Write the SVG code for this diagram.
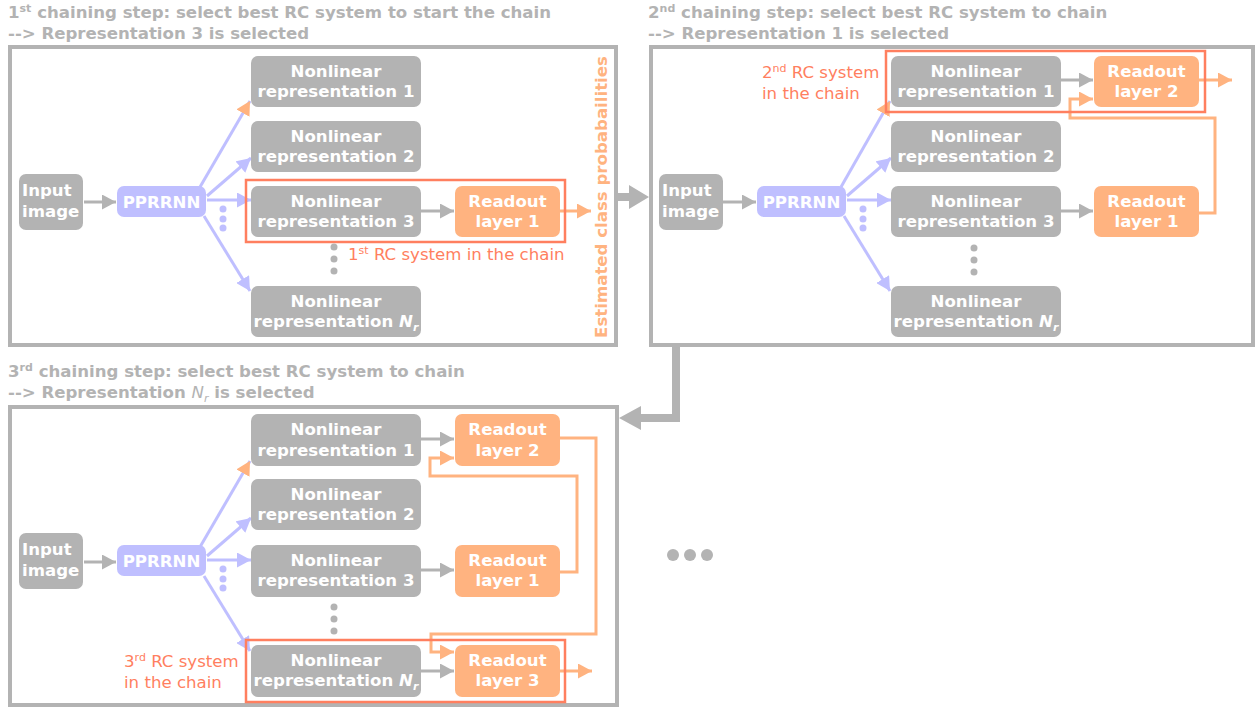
<svg xmlns="http://www.w3.org/2000/svg" width="1255" height="707" viewBox="0 0 1255 707">
<defs>
<style>
.frame{fill:none;stroke:#b3b3b3;stroke-width:4}
.gbox{fill:#b3b3b3}
.lbox{fill:#bfbfff}
.obox{fill:#ffb380}
.nt{font-family:"DejaVu Sans",sans-serif;font-weight:bold;font-size:16.6px;fill:#ffffff;text-anchor:middle}
.nts{font-family:"DejaVu Sans",sans-serif;font-weight:bold;font-size:16.6px;fill:#ffffff}
.title{font-family:"DejaVu Sans",sans-serif;font-weight:bold;font-size:16.6px;fill:#b3b3b3}
.lab{font-family:"DejaVu Sans",sans-serif;font-size:16.6px;fill:#ff7f5f}
.sel{fill:none;stroke:#ff7f5f;stroke-width:2.5}
.ga{fill:none;stroke:#b3b3b3;stroke-width:3;marker-end:url(#mg)}
.la{fill:none;stroke:#bfbfff;stroke-width:3;marker-end:url(#ml)}
.lo{fill:none;stroke:#bfbfff;stroke-width:3;marker-end:url(#mo)}
.oa{fill:none;stroke:#ffb380;stroke-width:3;marker-end:url(#mo)}
.gd{fill:#b3b3b3}
.ld{fill:#bfbfff}
</style>
<marker id="mg" markerUnits="userSpaceOnUse" markerWidth="15" markerHeight="15" refX="14" refY="7.5" orient="auto"><path d="M0,0 L14,7.5 L0,15 z" fill="#b3b3b3"/></marker>
<marker id="ml" markerUnits="userSpaceOnUse" markerWidth="15" markerHeight="15" refX="14" refY="7.5" orient="auto"><path d="M0,0 L14,7.5 L0,15 z" fill="#bfbfff"/></marker>
<marker id="mo" markerUnits="userSpaceOnUse" markerWidth="15" markerHeight="15" refX="14" refY="7.5" orient="auto"><path d="M0,0 L14,7.5 L0,15 z" fill="#ffb380"/></marker>
</defs>
<rect width="1255" height="707" fill="#ffffff"/>

<!-- titles -->
<text class="title" x="8" y="18">1<tspan font-size="11" dy="-6">st</tspan><tspan dy="6"> chaining step: select best RC system to start the chain</tspan></text>
<text class="title" x="8" y="39">--&gt; Representation 3 is selected</text>
<text class="title" x="648" y="18">2<tspan font-size="11" dy="-6">nd</tspan><tspan dy="6"> chaining step: select best RC system to chain</tspan></text>
<text class="title" x="648" y="39">--&gt; Representation 1 is selected</text>
<text class="title" x="8" y="377">3<tspan font-size="11" dy="-6">rd</tspan><tspan dy="6"> chaining step: select best RC system to chain</tspan></text>
<text class="title" x="8" y="398">--&gt; Representation <tspan font-weight="normal" font-style="italic">N</tspan><tspan font-weight="normal" font-style="italic" font-size="11" dy="4">r</tspan><tspan dy="-4"> is selected</tspan></text>

<!-- frames -->
<g id="panel1"><rect class="frame" x="10" y="47" width="606" height="298"/></g>
<g id="panel2"><rect class="frame" x="651" y="47" width="602" height="298"/></g>
<g id="panel3"><rect class="frame" x="10" y="407" width="607" height="298"/></g>

<!-- connectors -->
<g id="connectors">
<!-- panel 1 -->
<line class="ga" x1="84" y1="202" x2="116" y2="202"/>
<line class="lo" x1="200" y1="187" x2="250" y2="101"/>
<line class="la" x1="207" y1="196" x2="251" y2="158"/>
<line class="la" x1="207" y1="200" x2="251" y2="200"/>
<line class="la" x1="204" y1="216" x2="250" y2="291"/>
<line class="ga" x1="421" y1="211" x2="454" y2="211"/>
<line class="oa" x1="560" y1="211" x2="591" y2="211"/>
<!-- panel 2 -->
<line class="ga" x1="723" y1="202" x2="756" y2="202"/>
<line class="lo" x1="841" y1="187" x2="890" y2="101"/>
<line class="la" x1="847" y1="196" x2="891" y2="158"/>
<line class="la" x1="847" y1="200" x2="891" y2="200"/>
<line class="la" x1="844" y1="216" x2="890" y2="291"/>
<line class="ga" x1="1061" y1="80" x2="1093" y2="80"/>
<line class="ga" x1="1061" y1="211" x2="1093" y2="211"/>
<line class="oa" x1="1199" y1="80" x2="1232" y2="80"/>
<polyline class="oa" points="1199,213 1215,213 1215,118 1070,118 1070,99 1093,99"/>
<!-- panel 3 -->
<line class="ga" x1="84" y1="562" x2="116" y2="562"/>
<line class="lo" x1="200" y1="547" x2="250" y2="461"/>
<line class="la" x1="207" y1="556" x2="251" y2="518"/>
<line class="la" x1="207" y1="560" x2="251" y2="560"/>
<line class="la" x1="204" y1="576" x2="250" y2="651"/>
<line class="ga" x1="421" y1="439" x2="454" y2="439"/>
<line class="ga" x1="421" y1="570" x2="454" y2="570"/>
<line class="ga" x1="421" y1="671" x2="454" y2="671"/>
<line class="oa" x1="560" y1="671" x2="592" y2="671"/>
<polyline class="oa" points="560,572 577,572 577,476 430,476 430,458 454,458"/>
<polyline class="oa" points="560,438 596,438 596,634 431,634 431,652 454,652"/>
<!-- big arrows between panels -->
<polygon fill="#b3b3b3" points="617,193 629,193 629,185 649,197 629,209 629,201 617,201"/>
<polygon fill="#b3b3b3" points="672,347 680,347 680,422 641,422 641,430 619,418 641,406 641,414 672,414"/>
</g>

<!-- panel 1 nodes -->
<g id="p1-input"><rect class="gbox" x="19" y="174" width="64" height="56" rx="7"/><text class="nts" x="22" y="196">Input</text><text class="nts" x="22" y="217">image</text></g>
<g id="p1-pprrnn"><rect class="lbox" x="117" y="186" width="89" height="31" rx="7"/><text class="nt" x="161.5" y="208">PPRRNN</text></g>
<g id="p1-nr1"><rect class="gbox" x="251" y="56" width="170" height="51" rx="7"/><text class="nt" x="336" y="77">Nonlinear</text><text class="nt" x="336" y="97">representation 1</text></g>
<g id="p1-nr2"><rect class="gbox" x="251" y="121" width="170" height="51" rx="7"/><text class="nt" x="336" y="142">Nonlinear</text><text class="nt" x="336" y="162">representation 2</text></g>
<g id="p1-nr3"><rect class="gbox" x="251" y="186" width="170" height="51" rx="7"/><text class="nt" x="336" y="207">Nonlinear</text><text class="nt" x="336" y="227">representation 3</text></g>
<g id="p1-nrn"><rect class="gbox" x="251" y="286" width="170" height="51" rx="7"/><text class="nt" x="336" y="307">Nonlinear</text><text class="nt" x="336" y="327">representation <tspan font-style="italic">N</tspan><tspan font-style="italic" font-size="11" dy="4">r</tspan></text></g>
<g id="p1-rl1"><rect class="obox" x="455" y="186" width="105" height="51" rx="7"/><text class="nt" x="507.5" y="207">Readout</text><text class="nt" x="507.5" y="227">layer 1</text></g>
<g id="p1-sel"><rect class="sel" x="246" y="180" width="319" height="62"/><text class="lab" x="348" y="260">1<tspan font-size="11" dy="-6">st</tspan><tspan dy="6"> RC system in the chain</tspan></text></g>
<g id="p1-dots"><circle class="gd" cx="334" cy="247" r="3.5"/><circle class="gd" cx="334" cy="259" r="3.5"/><circle class="gd" cx="334" cy="271" r="3.5"/><circle class="ld" cx="223" cy="209" r="3.5"/><circle class="ld" cx="223" cy="219" r="3.5"/><circle class="ld" cx="223" cy="228" r="3.5"/></g>
<g id="p1-prob"><text class="title" transform="translate(607,197) rotate(-90)" text-anchor="middle" style="fill:#ffb380">Estimated class probabailities</text></g>

<!-- panel 2 nodes -->
<g id="p2-input"><rect class="gbox" x="659" y="174" width="64" height="56" rx="7"/><text class="nts" x="662" y="196">Input</text><text class="nts" x="662" y="217">image</text></g>
<g id="p2-pprrnn"><rect class="lbox" x="757" y="186" width="89" height="31" rx="7"/><text class="nt" x="801.5" y="208">PPRRNN</text></g>
<g id="p2-nr1"><rect class="gbox" x="891" y="56" width="170" height="51" rx="7"/><text class="nt" x="976" y="77">Nonlinear</text><text class="nt" x="976" y="97">representation 1</text></g>
<g id="p2-nr2"><rect class="gbox" x="891" y="121" width="170" height="51" rx="7"/><text class="nt" x="976" y="142">Nonlinear</text><text class="nt" x="976" y="162">representation 2</text></g>
<g id="p2-nr3"><rect class="gbox" x="891" y="186" width="170" height="51" rx="7"/><text class="nt" x="976" y="207">Nonlinear</text><text class="nt" x="976" y="227">representation 3</text></g>
<g id="p2-nrn"><rect class="gbox" x="891" y="286" width="170" height="51" rx="7"/><text class="nt" x="976" y="307">Nonlinear</text><text class="nt" x="976" y="327">representation <tspan font-style="italic">N</tspan><tspan font-style="italic" font-size="11" dy="4">r</tspan></text></g>
<g id="p2-rl2"><rect class="obox" x="1094" y="56" width="105" height="51" rx="7"/><text class="nt" x="1146.5" y="77">Readout</text><text class="nt" x="1146.5" y="97">layer 2</text></g>
<g id="p2-rl1"><rect class="obox" x="1094" y="186" width="105" height="51" rx="7"/><text class="nt" x="1146.5" y="207">Readout</text><text class="nt" x="1146.5" y="227">layer 1</text></g>
<g id="p2-sel"><rect class="sel" x="886" y="51" width="319" height="61"/><text class="lab" x="762" y="78">2<tspan font-size="11" dy="-6">nd</tspan><tspan dy="6"> RC system</tspan></text><text class="lab" x="762" y="99">in the chain</text></g>
<g id="p2-dots"><circle class="gd" cx="974" cy="248" r="3.5"/><circle class="gd" cx="974" cy="260" r="3.5"/><circle class="gd" cx="974" cy="272" r="3.5"/><circle class="ld" cx="863" cy="209" r="3.5"/><circle class="ld" cx="863" cy="219" r="3.5"/><circle class="ld" cx="863" cy="228" r="3.5"/></g>

<!-- panel 3 nodes -->
<g id="p3-input"><rect class="gbox" x="19" y="533" width="64" height="56" rx="7"/><text class="nts" x="22" y="555">Input</text><text class="nts" x="22" y="576">image</text></g>
<g id="p3-pprrnn"><rect class="lbox" x="117" y="545" width="89" height="31" rx="7"/><text class="nt" x="161.5" y="567">PPRRNN</text></g>
<g id="p3-nr1"><rect class="gbox" x="251" y="414" width="170" height="52" rx="7"/><text class="nt" x="336" y="435">Nonlinear</text><text class="nt" x="336" y="456">representation 1</text></g>
<g id="p3-nr2"><rect class="gbox" x="251" y="479" width="170" height="51" rx="7"/><text class="nt" x="336" y="500">Nonlinear</text><text class="nt" x="336" y="520">representation 2</text></g>
<g id="p3-nr3"><rect class="gbox" x="251" y="545" width="170" height="52" rx="7"/><text class="nt" x="336" y="566">Nonlinear</text><text class="nt" x="336" y="586">representation 3</text></g>
<g id="p3-nrn"><rect class="gbox" x="251" y="645" width="170" height="52" rx="7"/><text class="nt" x="336" y="666">Nonlinear</text><text class="nt" x="336" y="686">representation <tspan font-style="italic">N</tspan><tspan font-style="italic" font-size="11" dy="4">r</tspan></text></g>
<g id="p3-rl2"><rect class="obox" x="455" y="414" width="105" height="52" rx="7"/><text class="nt" x="507.5" y="435">Readout</text><text class="nt" x="507.5" y="456">layer 2</text></g>
<g id="p3-rl1"><rect class="obox" x="455" y="545" width="105" height="52" rx="7"/><text class="nt" x="507.5" y="566">Readout</text><text class="nt" x="507.5" y="586">layer 1</text></g>
<g id="p3-rl3"><rect class="obox" x="455" y="645" width="105" height="52" rx="7"/><text class="nt" x="507.5" y="666">Readout</text><text class="nt" x="507.5" y="686">layer 3</text></g>
<g id="p3-sel"><rect class="sel" x="246" y="640" width="319" height="62"/><text class="lab" x="124" y="667">3<tspan font-size="11" dy="-6">rd</tspan><tspan dy="6"> RC system</tspan></text><text class="lab" x="124" y="688">in the chain</text></g>
<g id="p3-dots"><circle class="gd" cx="334" cy="607" r="3.5"/><circle class="gd" cx="334" cy="619" r="3.5"/><circle class="gd" cx="334" cy="631" r="3.5"/><circle class="ld" cx="223" cy="569" r="3.5"/><circle class="ld" cx="223" cy="579" r="3.5"/><circle class="ld" cx="223" cy="588" r="3.5"/></g>

<g id="ellipsis"><circle class="gd" cx="673" cy="555" r="6"/><circle class="gd" cx="690" cy="555" r="6"/><circle class="gd" cx="707" cy="555" r="6"/></g>
</svg>
